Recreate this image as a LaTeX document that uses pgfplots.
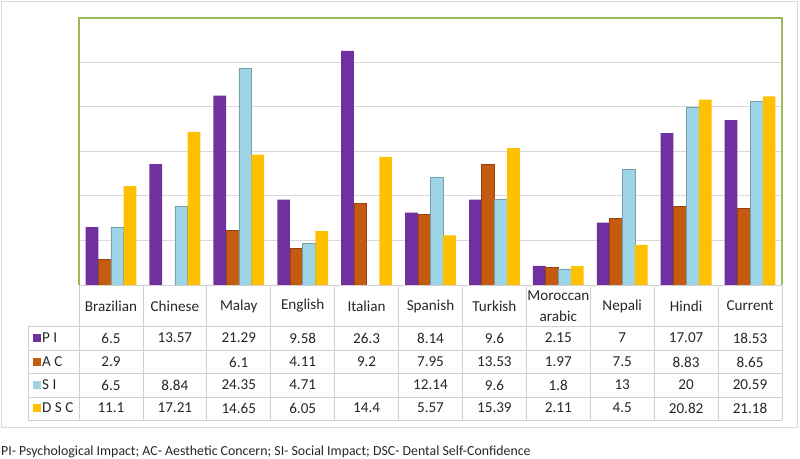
\documentclass[border=0pt]{standalone}
\usepackage{fontspec}
\setmainfont{Carlito}
\usepackage{pgfplots}
\pgfplotsset{compat=1.18}
\usepackage{pgfplotstable}

\definecolor{piC}{HTML}{7030A0}
\definecolor{acC}{HTML}{C55A11}
\definecolor{siC}{HTML}{9DD5E6}
\definecolor{dscC}{HTML}{FFC000}
\definecolor{frameG}{HTML}{9BBB59}
\definecolor{gridC}{HTML}{D9D9D9}
\definecolor{lineC}{HTML}{D0D0D0}

% scores per language group (nan = not reported)
\pgfplotstableread{
x  pi     ac     si     dsc
0  6.5    2.9    6.5    11.1
1  13.57  nan    8.84   17.21
2  21.29  6.1    24.35  14.65
3  9.58   4.11   4.71   6.05
4  26.3   9.2    nan    14.4
5  8.14   7.95   12.14  5.57
6  9.6    13.53  9.6    15.39
7  2.15   1.97   1.8    2.11
8  7      7.5    13     4.5
9  17.07  8.83   20     20.82
10 18.53  8.65   20.59  21.18
}\scores

\begin{document}
\begin{tikzpicture}
\useasboundingbox (0,0) rectangle (800bp,459bp);

\begin{axis}[
  at={(79bp,174bp)}, anchor=south west,
  scale only axis, width=703bp, height=267bp,
  xmin=-0.5, xmax=10.5, ymin=0, ymax=30,
  ybar=0pt, bar width=12.7bp,
  xtick=\empty,
  ytick={5,10,15,20,25}, yticklabels={},
  major tick length=0pt,
  ymajorgrids, grid style={gridC, line width=1bp},
  axis line style={draw=none},
  clip=false,
]
\addplot[fill=piC, draw=none] table[x=x, y=pi] {\scores};
\addplot[fill=acC, draw=acC!75!black, line width=0.5bp] table[x=x, y=ac] {\scores};
\addplot[fill=siC, draw=siC!75!black, line width=0.5bp] table[x=x, y=si] {\scores};
\addplot[fill=dscC, draw=none] table[x=x, y=dsc] {\scores};
\end{axis}

\begin{scope}[x=1bp, y=-1bp, yshift=459bp]
\draw[gridC, line width=1bp] (1.5,1.5) rectangle (797.5,428);

% chart frame
\draw[frameG, line width=1.3bp] (79,285) -- (79,18) -- (782,18) -- (782,285);
\draw[lineC, line width=1bp] (79,285.5) -- (782,285.5);

% data table
\begin{scope}[lineC, line width=0.8bp]
  \foreach \k in {0,...,11} \draw ({79+703/11*\k},286) -- ({79+703/11*\k},420);
  \draw (28,326) -- (28,420);
  \foreach \yy in {326,350,373,397,420} \draw (28,\yy) -- (782,\yy);
\end{scope}

\begin{scope}[font=\fontsize{15.2}{16}\selectfont, text=black!85]
  \foreach \n [count=\i from 0] in {Brazilian,Chinese,Malay,English,Italian,Spanish,Turkish,,Nepali,Hindi,Current}
    \node at ({79+703/11*(\i+0.5)},306) {\n};
  \node at ({79+703/11*7.5},296) {Moroccan};
  \node at ({79+703/11*7.5},316) {arabic};

  \foreach \v [count=\i from 0] in {6.5,13.57,21.29,9.58,26.3,8.14,9.6,2.15,7,17.07,18.53}
    \node at ({79+703/11*(\i+0.5)},338) {\v};
  \foreach \v [count=\i from 0] in {2.9,,6.1,4.11,9.2,7.95,13.53,1.97,7.5,8.83,8.65}
    \node at ({79+703/11*(\i+0.5)},362) {\v};
  \foreach \v [count=\i from 0] in {6.5,8.84,24.35,4.71,,12.14,9.6,1.8,13,20,20.59}
    \node at ({79+703/11*(\i+0.5)},385) {\v};
  \foreach \v [count=\i from 0] in {11.1,17.21,14.65,6.05,14.4,5.57,15.39,2.11,4.5,20.82,21.18}
    \node at ({79+703/11*(\i+0.5)},408) {\v};

  \foreach \c/\t/\yy in {piC/P I/338, acC/A C/362, siC/S I/385, dscC/D S C/408} {
    \fill[\c] (33,\yy-4) rectangle (41,\yy+4);
    \node[anchor=west, inner sep=0pt] at (42,\yy) {\t};
  }
\end{scope}

\node[anchor=west, inner sep=0pt, font=\fontsize{13.9}{15}\selectfont, text=black!85]
  at (1,452) {PI- Psychological Impact; AC- Aesthetic Concern; SI- Social Impact; DSC- Dental Self-Confidence};
\end{scope}
\end{tikzpicture}
\end{document}
